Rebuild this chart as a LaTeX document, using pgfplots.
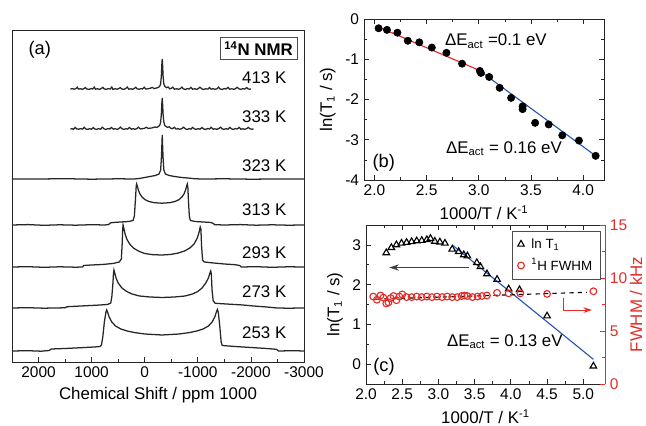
\documentclass[border=0pt]{standalone}
\usepackage{fontspec}
\setmainfont{Liberation Sans}
\usepackage{pgfplots}
\pgfplotsset{compat=1.18}
\usetikzlibrary{arrows.meta}
\definecolor{fitred}{RGB}{232,40,35}
\definecolor{fitblue}{RGB}{40,85,175}
\definecolor{axred}{RGB}{228,45,40}

\pgfplotsset{
  panel/.style={
    scale only axis,
    axis line style={line width=0.7pt, black!85},
    every tick/.style={black!85, line width=0.5pt},
    major tick length=0.12cm, minor tick length=0.07cm,
    tick label style={font=\fontsize{11}{12}\selectfont},
    label style={font=\fontsize{12}{14}\selectfont},
    /pgf/number format/assume math mode=true,
  },
  spec/.style={black!85, line width=0.9pt, no markers, sharp plot},
}

\begin{document}
\begin{tikzpicture}
\useasboundingbox (0,0) rectangle (16.15cm,10.65cm);

% ---------------- (a) 14N spectra ----------------
\begin{axis}[panel,
  at={(0.3cm,1.6cm)}, anchor=south west, width=7.3cm, height=8.3cm,
  x dir=reverse, xmin=-3000, xmax=2500, ymin=0, ymax=332,
  xtick={-3000,-2000,-1000,0,1000,2000}, minor x tick num=1,
  xtick pos=bottom, ytick=\empty,
  scaled x ticks=false,
  xticklabel style={/pgf/number format/1000 sep={}},
  xlabel={Chemical Shift / ppm 1000},
]
% 413 K
\addplot[spec] coordinates {
(1400,273)(1360,273.4)(1330,272.8)(1300,273.2)(1270,274.8)(1250,272.9)(1210,273.3)(1180,272.7)(1150,273.1)(1120,274.5)
(1090,273)(1050,272.6)(1010,273.4)(980,273)(950,275)(930,272.8)(890,273.2)(850,272.6)(820,273.5)(790,274.6)
(760,273)(720,272.7)(690,273.3)(650,273)(620,274.9)(600,272.6)(560,273.2)(520,272.8)(490,273.4)(460,274.4)
(430,273)(400,272.6)(360,273.3)(330,275)(300,272.8)(260,273.2)(230,272.7)(200,273.4)(170,274.7)(140,273)
(100,272.8)(70,273.4)(40,273)(10,274.8)(-20,272.9)(-60,273.3)(-100,273.6)(-140,274.6)(-180,273.4)(-220,274)
(-250,274.4)(-280,275.5)(-300,278)(-313,286)(-323,298)(-330,303)(-337,297)(-347,285)(-360,278)(-380,275.5)
(-410,274.3)(-440,275)(-470,273.2)(-500,273.6)(-530,274.8)(-560,272.8)(-600,273.2)(-640,272.7)(-670,273.4)(-700,274.9)
(-730,273)(-770,272.6)(-800,273.3)(-840,273)(-870,274.6)(-900,272.8)(-940,273.2)(-980,272.7)(-1010,273.4)(-1040,274.8)
(-1080,273)(-1110,272.6)(-1150,273.2)(-1190,272.9)(-1220,274.5)(-1250,272.8)(-1290,273.3)(-1320,272.7)(-1360,273.2)(-1390,274.9)
(-1420,273)(-1460,272.6)(-1500,273.4)(-1530,273)(-1570,274.6)(-1600,272.8)(-1640,273.2)(-1680,272.7)(-1710,273.3)(-1740,274.7)
(-1780,273)(-1810,272.7)(-1850,273.3)(-1880,272.9)(-1920,274.4)(-1950,273)(-1980,272.8)(-2000,273)
};
% 333 K
\addplot[spec] coordinates {
(1400,233)(1370,233.3)(1340,232.7)(1310,234.6)(1280,233)(1240,232.8)(1210,233.4)(1170,232.9)(1140,234.7)(1110,233)
(1070,232.6)(1040,233.3)(1000,232.8)(970,234.5)(940,233)(900,232.7)(870,233.3)(830,232.8)(800,234.8)(760,233)
(730,232.6)(690,233.4)(660,233)(630,234.6)(590,232.8)(560,233.3)(520,232.7)(490,233.2)(460,234.9)(420,233)
(390,232.7)(350,233.3)(320,232.9)(290,234.5)(250,232.8)(220,233.3)(180,232.7)(150,233.4)(120,234.8)(80,233)
(50,233.3)(10,233.6)(-30,234.7)(-70,233.5)(-110,233.9)(-150,234.2)(-190,235)(-230,234.6)(-260,235.6)(-285,237)
(-300,240)(-313,248)(-323,259)(-330,264)(-337,258)(-347,247)(-360,240)(-378,236.5)(-400,235.5)(-430,234.6)
(-460,235.2)(-490,233.8)(-520,233.3)(-560,234.7)(-590,232.9)(-630,233.3)(-660,232.7)(-700,233.4)(-730,234.8)(-770,233)
(-800,232.6)(-840,233.3)(-870,232.8)(-900,234.6)(-940,233)(-970,232.7)(-1010,233.3)(-1040,232.8)(-1080,234.5)(-1110,233)
(-1150,232.6)(-1180,233.4)(-1220,233)(-1250,234.7)(-1290,232.8)(-1320,233.2)(-1360,232.7)(-1390,233.3)(-1430,234.8)(-1460,233)
(-1500,232.7)(-1530,233.3)(-1570,232.8)(-1600,234.6)(-1640,233)(-1670,232.6)(-1710,233.4)(-1740,233)(-1780,234.5)(-1810,232.8)
(-1850,233.2)(-1880,232.7)(-1920,233.3)(-1950,234.6)(-1990,233)(-2020,232.8)(-2050,233)
};
% 323 K
\addplot[spec] coordinates {
(2500,183)(2000,183)(1500,183.3)(1000,182.8)(500,183.2)(200,183)(100,183.5)(0,184.5)(-100,185.5)(-200,186.5)
(-270,188)(-300,192)(-315,205)(-330,227)(-345,205)(-360,192)(-390,188)(-460,186.5)(-560,185.5)(-700,184.5)
(-850,183.8)(-950,183.2)(-1100,183)(-1500,183.2)(-2000,182.8)(-2500,183)(-3000,183)
};
% 313 K
\addplot[spec] coordinates {
(2500,137)(2200,137.4)(1900,136.7)(1600,137.2)(1300,136.8)(1000,137.3)(750,137)(680,137.5)(650,139)(600,139.5)
(450,140)(300,140.5)(220,141.5)(195,146)(175,162)(160,176)(152,178)(140,176)(120,172)(90,168)
(50,165)(0,162.5)(-80,160.5)(-180,159.3)(-325,158.8)(-470,159.3)(-570,160.5)(-650,162.5)(-700,165)(-740,168)
(-770,172)(-790,176)(-802,178)(-812,175)(-825,160)(-840,146)(-860,141.5)(-950,140.5)(-1100,140)(-1250,139.5)
(-1290,138.5)(-1320,137.3)(-1500,137)(-1800,137.4)(-2100,136.8)(-2400,137.2)(-2700,136.8)(-3000,137)
};
% 293 K
\addplot[spec] coordinates {
(2500,95)(2200,95.3)(1900,94.7)(1600,95.2)(1300,94.8)(1170,95)(1150,96.5)(1000,97)(800,97.5)(600,98.5)
(480,100)(440,103)(425,118)(415,133)(408,137)(395,134)(370,128)(330,122)(270,117)(200,113.5)
(100,110.5)(0,108.5)(-150,107.3)(-320,107)(-480,107.5)(-620,108.8)(-750,111)(-850,114)(-930,118)(-990,124)
(-1025,130)(-1045,135)(-1058,133)(-1072,115)(-1090,102)(-1120,100)(-1300,99)(-1500,98)(-1700,97.3)(-1790,96.5)
(-1820,95)(-2100,95.3)(-2400,94.7)(-2700,95.2)(-3000,95)
};
% 273 K
\addplot[spec] coordinates {
(2500,54)(2200,54.3)(1900,53.8)(1500,54.2)(1460,55.3)(1200,56)(900,56.8)(700,57.5)(640,59)(620,65)
(600,78)(588,89)(580,92)(565,89)(540,84)(500,79)(430,74)(340,70.5)(240,68)(100,66)
(-100,65)(-330,64.5)(-560,65)(-760,66)(-900,68)(-1000,70.5)(-1080,74)(-1150,79)(-1200,84)(-1228,89)
(-1243,91)(-1255,88)(-1268,72)(-1290,61)(-1330,58.7)(-1600,57.8)(-1850,57)(-2050,56)(-2300,55)(-2490,54)
(-2700,53.8)(-3000,54)
};
% 253 K
\addplot[spec] coordinates {
(2500,11)(2200,11.3)(1950,10.8)(1800,11.5)(1760,13)(1500,13.5)(1200,14.3)(950,15)(840,15.5)(815,17)
(790,25)(760,40)(730,50)(716,52)(700,50)(670,45)(620,40)(550,36)(450,33)(330,31)
(200,29.5)(0,28)(-325,27)(-650,28)(-850,29.5)(-980,31)(-1100,33)(-1200,36)(-1270,40)(-1320,45)
(-1350,50)(-1368,52.5)(-1385,50)(-1410,38)(-1440,20)(-1460,16.5)(-1700,15.5)(-2000,14.5)(-2300,13.5)(-2480,12.7)
(-2520,11)(-2800,11.3)(-3000,11)
};
\node[anchor=west, font=\fontsize{13}{14}\selectfont] at (axis cs:2280,312) {(a)};
\node[draw=black!70, line width=0.5pt, font=\fontsize{12}{14}\selectfont\bfseries, inner sep=3pt]
  at (axis cs:-2145,313.5) {\textsuperscript{14}N NMR};
\begin{scope}[font=\fontsize{12}{14}\selectfont]
\node[anchor=east] at (axis cs:-2760,284) {413 K};
\node[anchor=east] at (axis cs:-2760,245) {333 K};
\node[anchor=east] at (axis cs:-2760,196) {323 K};
\node[anchor=east] at (axis cs:-2760,152) {313 K};
\node[anchor=east] at (axis cs:-2760,109) {293 K};
\node[anchor=east] at (axis cs:-2760,70) {273 K};
\node[anchor=east] at (axis cs:-2760,29) {253 K};
\end{scope}
\end{axis}

% ---------------- (b) ln T1 vs 1000/T ----------------
\begin{axis}[panel,
  at={(9.1cm,6.15cm)}, anchor=south west, width=6cm, height=4.025cm,
  xmin=1.9, xmax=4.2, ymin=-4, ymax=0,
  xtick={2,2.5,3,3.5,4}, ytick={-4,-3,-2,-1,0},
  minor x tick num=1, minor y tick num=1,
  xticklabel style={/pgf/number format/.cd, fixed, fixed zerofill, precision=1},
  xlabel={1000/T / K\textsuperscript{-1}},
  ylabel={ln(T\textsubscript{1} / s)},
]
\addplot[fitred, line width=0.8pt] coordinates {(2.03,-0.19) (3.0,-1.27)};
\addplot[fitblue, line width=0.8pt] coordinates {(3.0,-1.27) (4.12,-3.40)};
\addplot[only marks, mark=*, mark size=2.6pt, black] coordinates {
(2.04,-0.23) (2.12,-0.27) (2.22,-0.34) (2.32,-0.54) (2.43,-0.58)
(2.55,-0.71) (2.69,-0.84) (2.84,-1.11) (3.01,-1.29) (3.02,-1.34)
(3.10,-1.44) (3.20,-1.71) (3.31,-1.96) (3.42,-2.17) (3.42,-2.24)
(3.54,-2.58) (3.67,-2.62) (3.80,-2.89) (3.96,-3.02) (4.12,-3.40)
};
\node[anchor=west, font=\fontsize{12}{14}\selectfont] at (axis cs:2.63,-0.55) {ΔE\textsubscript{act} =0.1 eV};
\node[anchor=west, font=\fontsize{12}{14}\selectfont] at (axis cs:2.64,-3.22) {ΔE\textsubscript{act} = 0.16 eV};
\node[anchor=west, font=\fontsize{13}{14}\selectfont] at (rel axis cs:0.015,0.11) {(b)};
\end{axis}

% ---------------- (c) ln T1 and 1H FWHM ----------------
\begin{axis}[panel,
  at={(9.15cm,1.05cm)}, anchor=south west, width=5.975cm, height=3.975cm,
  xmin=2, xmax=5.3, ymin=-0.5, ymax=3.5,
  axis y line*=left,
  xtick={2,2.5,3,3.5,4,4.5,5}, ytick={0,1,2,3},
  minor x tick num=1, minor y tick num=1,
  xticklabel style={/pgf/number format/.cd, fixed, fixed zerofill, precision=1},
  xlabel={1000/T / K\textsuperscript{-1}},
  ylabel={ln(T\textsubscript{1} / s)},
]
\addplot[fitblue, line width=0.8pt] coordinates {(3.19,3.0) (5.14,0.12)};
\addplot[only marks, mark=triangle, mark size=2.7pt, black, line width=0.8pt] coordinates {
(2.28,2.80) (2.35,2.93) (2.42,3.00) (2.49,3.04) (2.56,3.06) (2.63,3.08)
(2.70,3.10) (2.77,3.11) (2.84,3.13) (2.89,3.16) (2.95,3.09) (3.02,3.07)
(3.09,3.04) (3.19,2.89) (3.28,2.83) (3.35,2.75) (3.40,2.72) (3.53,2.55)
(3.58,2.45) (3.67,2.27) (3.81,2.13) (3.97,1.89) (4.12,1.87) (4.50,1.21)
(5.14,-0.05)
};
\draw[black!75, line width=1pt, -{Stealth[length=7pt,width=4.5pt]}]
  (axis cs:3.42,2.43) -- (axis cs:2.32,2.43);
\draw[axred, line width=0.7pt, -{Stealth[length=6pt,width=4pt]}]
  (axis cs:4.73,1.66) |- (axis cs:5.12,1.36);
\draw[black!85, line width=0.7pt] (rel axis cs:0,1) -- (rel axis cs:1,1);
\node[anchor=west, font=\fontsize{12}{14}\selectfont] at (axis cs:3.05,0.56) {ΔE\textsubscript{act} = 0.13 eV};
\node[anchor=west, font=\fontsize{13}{14}\selectfont] at (rel axis cs:0.01,0.11) {(c)};
\end{axis}

\begin{axis}[panel,
  at={(9.15cm,1.05cm)}, anchor=south west, width=5.975cm, height=3.975cm,
  xmin=2, xmax=5.3, ymin=0, ymax=15,
  axis x line=none, axis y line*=right,
  ytick={0,5,10,15}, minor y tick num=1,
  y axis line style={axred},
  ytick style={axred},
  yticklabel style={axred},
  ylabel style={axred},
  ylabel shift=-5pt,
  ylabel={FWHM / kHz},
  legend style={at={(0.983,0.962)}, anchor=north east, draw=black!70,
    font=\fontsize{9.5}{11}\selectfont, row sep=2pt, inner xsep=4pt, inner ysep=3pt,
    /tikz/every odd column/.append style={column sep=3pt}},
  legend cell align=left,
]
\addlegendimage{only marks, mark=triangle, mark size=2.7pt, black, line width=0.8pt}
\addlegendentry{ln T\textsubscript{1}}
\addplot[only marks, mark=o, mark size=2.4pt, axred, line width=0.8pt] coordinates {
(2.10,8.25) (2.15,7.95) (2.20,8.35) (2.24,8.15) (2.28,7.60) (2.31,7.70)
(2.34,8.10) (2.38,8.30) (2.42,7.90) (2.46,8.25) (2.50,8.45) (2.56,8.20)
(2.63,8.20) (2.70,8.25) (2.77,8.20) (2.84,8.25) (2.91,8.20) (2.98,8.25)
(3.05,8.20) (3.12,8.25) (3.19,8.20) (3.26,8.20) (3.32,8.30) (3.36,8.35)
(3.40,8.30) (3.47,8.20) (3.54,8.25) (3.60,8.30) (3.67,8.35) (3.81,8.60)
(3.97,8.55) (4.13,8.55) (4.50,8.50) (5.14,8.75)
};
\addlegendentry{\textsuperscript{1}H FWHM}
\addplot[black, dashed, line width=0.8pt, forget plot] coordinates {(2.13,8.0) (5.05,8.65)};
\end{axis}
\end{tikzpicture}
\end{document}
